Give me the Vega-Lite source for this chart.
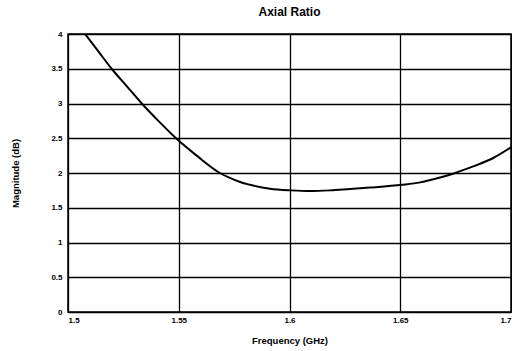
{
  "$schema": "https://vega.github.io/schema/vega-lite/v6.json",
  "width": 443,
  "height": 278,
  "autosize": "none",
  "padding": {"left": 68, "top": 34, "right": 1, "bottom": 39},
  "background": "white",
  "title": {
    "text": "Axial Ratio",
    "font": "Liberation Sans",
    "fontSize": 12,
    "fontWeight": "bold",
    "color": "black",
    "anchor": "middle",
    "offset": 11
  },
  "config": {
    "view": {"stroke": "black", "strokeWidth": 1.5},
    "axis": {
      "grid": true,
      "gridColor": "black",
      "gridOpacity": 1,
      "gridWidth": 1.3,
      "domain": false,
      "ticks": false,
      "labelFont": "Liberation Sans",
      "labelFontWeight": "bold",
      "labelFontSize": 8,
      "labelColor": "black",
      "titleFont": "Liberation Sans",
      "titleFontWeight": "bold",
      "titleFontSize": 9.5,
      "titleColor": "black"
    }
  },
  "data": {
    "values": [
      {"f": 1.5077, "m": 4.0},
      {"f": 1.5137, "m": 3.75},
      {"f": 1.5197, "m": 3.5},
      {"f": 1.5265, "m": 3.25},
      {"f": 1.5333, "m": 3.0},
      {"f": 1.5408, "m": 2.75},
      {"f": 1.5488, "m": 2.5},
      {"f": 1.5581, "m": 2.25},
      {"f": 1.5686, "m": 2.0},
      {"f": 1.5731, "m": 1.93},
      {"f": 1.5777, "m": 1.87},
      {"f": 1.5822, "m": 1.83},
      {"f": 1.5912, "m": 1.774},
      {"f": 1.6007, "m": 1.75},
      {"f": 1.6093, "m": 1.74},
      {"f": 1.6183, "m": 1.75},
      {"f": 1.6273, "m": 1.77},
      {"f": 1.6363, "m": 1.79},
      {"f": 1.6509, "m": 1.83},
      {"f": 1.659, "m": 1.865},
      {"f": 1.6663, "m": 1.92},
      {"f": 1.6738, "m": 1.99},
      {"f": 1.6829, "m": 2.095},
      {"f": 1.692, "m": 2.216},
      {"f": 1.7, "m": 2.37}
    ]
  },
  "mark": {"type": "line", "color": "black", "strokeWidth": 2, "interpolate": "monotone", "clip": true},
  "encoding": {
    "x": {
      "field": "f",
      "type": "quantitative",
      "scale": {"domain": [1.5, 1.7], "zero": false, "nice": false},
      "axis": {
        "values": [1.5, 1.55, 1.6, 1.65, 1.7],
        "format": "~g",
        "title": "Frequency (GHz)",
        "labelPadding": 4,
        "titleY": 28,
        "titleBaseline": "middle",
        "labelOverlap": false
      }
    },
    "y": {
      "field": "m",
      "type": "quantitative",
      "scale": {"domain": [0, 4], "nice": false},
      "axis": {
        "values": [0, 0.5, 1, 1.5, 2, 2.5, 3, 3.5, 4],
        "format": "~g",
        "title": "Magnitude (dB)",
        "labelPadding": 6,
        "titleX": -53,
        "titleBaseline": "middle",
        "labelOverlap": false
      }
    }
  }
}
